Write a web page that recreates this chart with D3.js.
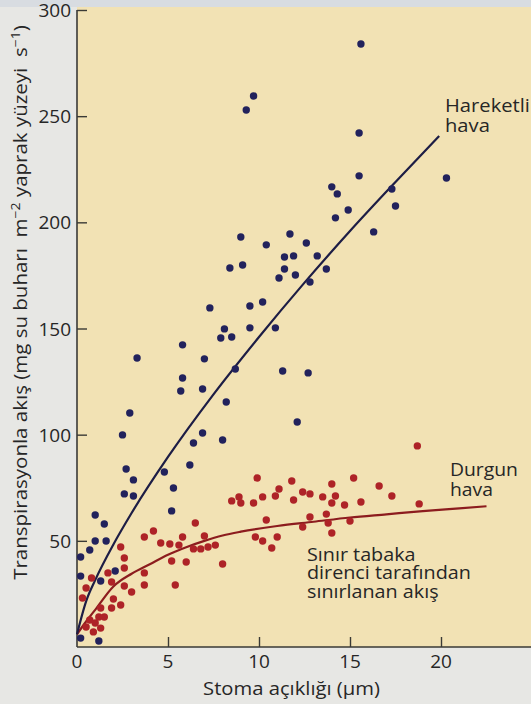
<!DOCTYPE html>
<html>
<head>
<meta charset="utf-8">
<script src="https://cdn.jsdelivr.net/npm/d3@7"></script>
<style>
  html, body { margin: 0; padding: 0; background: #e7e7e4; }
  svg { display: block; }
  text { font-family: "Open Sans", "Noto Sans", sans-serif; fill: #262626; }
</style>
</head>
<body>
<svg id="chart" width="531" height="704"></svg>
<script>
// ---- Data ----
const xTicks = [0, 5, 10, 15, 20];
const yTicks = [50, 100, 150, 200, 250, 300];

// Moving air (Hareketli hava) points: stomatal aperture (µm) / transpiration
const movingAirX = [9.7,9.3,9.0,9.1,8.4,10.4,7.3,9.5,10.2,8.1,7.9,8.5,9.5,5.8,15.6,15.5,15.5,20.3,14.0,14.3,
  17.3,17.5,14.9,14.2,16.3,11.7,12.6,11.4,11.9,13.2,11.4,11.1,12.0,12.8,13.7,10.9,3.3,7.0,5.8,5.7,
  6.9,8.7,8.2,2.9,2.5,6.9,6.4,8.0,6.2,2.7,3.1,4.8,2.6,3.1,5.3,5.2,1.0,1.5,1.0,1.6,
  0.7,0.2,0.2,1.3,2.1,0.2,1.2,11.3,12.7,12.1];
const movingAirY = [259.5,252.9,193.1,179.9,178.5,189.4,159.7,160.6,162.5,149.8,145.5,146.0,150.3,142.3,284.0,242.1,221.9,220.9,216.7,213.4,
  215.7,207.7,205.8,202.1,195.5,194.5,190.3,183.7,184.2,184.2,178.0,173.8,175.2,171.9,178.0,150.3,136.1,135.7,126.7,120.6,
  121.5,130.9,115.4,110.2,99.9,100.8,96.1,97.5,85.7,83.8,78.7,82.4,72.1,71.1,74.9,64.1,62.2,57.9,49.9,49.9,
  45.7,42.4,33.4,31.1,35.8,4.2,2.8,130.0,129.1,106.0];

// Still air (Durgun hava) points
const stillAirX = [0.9,0.5,1.3,1.0,0.7,1.2,1.5,1.3,1.9,2.4,2.0,0.3,0.5,2.6,3.0,0.8,1.9,1.7,2.6,2.6,
  2.4,3.7,3.7,3.7,4.2,4.6,5.1,5.6,5.8,5.2,5.4,6.0,6.5,6.4,6.8,7.0,7.2,7.6,8.0,8.5,
  8.9,9.0,9.7,9.9,10.2,9.8,10.2,10.7,10.4,11.0,10.9,11.1,11.8,11.9,12.4,12.8,12.4,12.8,13.5,14.0,
  14.2,14.0,13.7,13.8,14.0,14.7,15.0,15.2,15.6,16.6,17.3,18.8,18.7];
const stillAirY = [7.1,9.4,8.9,11.3,12.7,14.1,14.1,18.4,18.4,19.8,22.6,23.1,27.8,28.7,25.9,32.5,30.6,34.9,37.2,41.9,
  47.1,34.9,29.2,51.8,54.6,49.0,48.5,48.0,51.8,40.5,29.2,40.0,58.4,46.2,46.2,52.3,47.1,48.0,39.1,68.8,
  70.7,67.8,67.8,79.6,70.7,51.8,49.9,46.6,59.8,51.8,71.1,74.4,78.2,69.2,73.0,72.1,56.5,61.2,70.7,76.8,
  71.1,67.8,62.6,58.4,53.7,66.9,59.3,79.6,68.3,75.8,71.1,67.4,94.7];

// Fitted curves as drawn in the figure
const movingCurveX = [0, 0.5, 1, 2, 3, 5, 7.5, 10, 12.5, 15, 17.5, 19.9];
const movingCurveY = [6, 21.5, 31.5, 48.3, 63.1, 89.5, 119, 146, 171.6, 195.9, 219, 240.7];
const stillCurveX = [0, 0.5, 1, 2, 3, 4, 5, 6, 7, 8, 9, 11, 13, 15, 17, 19, 21, 22.5];
const stillCurveY = [6, 12, 17.5, 28.5, 34.5, 39, 43.5, 47, 50, 52.5, 54.3, 57, 59, 61, 62.5, 64, 65.3, 66.3];

// ---- Layout ----
const svg = d3.select("#chart");
const mLeft = 77, mRight = 532, mTop = 10, mBottom = 647;
const x = d3.scaleLinear().domain([0, 25]).range([mLeft, mRight]);
const y = d3.scaleLinear().domain([0, 300]).range([mBottom, mTop]);

// top strip
svg.append("rect").attr("x", 0).attr("y", 0).attr("width", 531).attr("height", 7).attr("fill", "#d8dce1");
// plot background
svg.append("rect").attr("x", mLeft).attr("y", 7).attr("width", 531 - mLeft).attr("height", mBottom - 7)
  .attr("fill", "#f2e2b4");

// axes
const axisColor = "#3a3a36";
const yAxis = svg.append("g").attr("transform", `translate(${mLeft},0)`)
  .call(d3.axisRight(y).tickValues(yTicks).tickSize(10).tickFormat(""));
const xAxis = svg.append("g").attr("transform", `translate(0,${mBottom})`)
  .call(d3.axisTop(x).tickValues([5, 10, 15, 20, 25]).tickSize(10).tickFormat(""));
[yAxis, xAxis].forEach(g => {
  g.select(".domain").attr("stroke", axisColor).attr("stroke-width", 1.6);
  g.selectAll(".tick line").attr("stroke", axisColor).attr("stroke-width", 1.4);
});
yAxis.select(".domain").attr("d", `M0,${mTop}V${mBottom}`);
xAxis.select(".domain").attr("d", `M${mLeft},0H${mRight}`);

// tick labels
svg.append("g").selectAll("text").data(yTicks).join("text")
  .attr("x", mLeft - 6).attr("y", d => y(d) + 7)
  .attr("text-anchor", "end").attr("font-size", 19).text(d => d);
svg.append("g").selectAll("text").data(xTicks).join("text")
  .attr("x", d => x(d)).attr("y", 668)
  .attr("text-anchor", "middle").attr("font-size", 19).text(d => d);

// helper: stretch a text block horizontally (along its reading direction) to a target width
function stretch(g, textEl, target) {
  const w = textEl.node().getBBox().width;
  return target / w;
}

// x title
{
  const g = svg.append("g");
  const t = g.append("text").attr("font-size", 17.5).attr("text-anchor", "middle").text("Stoma açıklığı (µm)");
  const k = stretch(g, t, 177);
  g.attr("transform", `translate(291.5,695) scale(${k},1)`);
}
// y title
{
  const g = svg.append("g");
  const t = g.append("text").attr("text-anchor", "middle").attr("font-size", 17.5);
  t.append("tspan").text("Transpirasyonla akış (mg su buharı\u00a0\u00a0m");
  t.append("tspan").attr("dy", -7).attr("font-size", 12).text("−2");
  t.append("tspan").attr("dy", 7).text(" yaprak yüzeyi\u00a0\u00a0s");
  t.append("tspan").attr("dy", -7).attr("font-size", 12).text("−1");
  t.append("tspan").attr("dy", 7).text(")");
  const k = stretch(g, t, 555);
  g.attr("transform", `translate(27,302.5) rotate(-90) scale(${k},1)`);
}

// curves
const line = d3.line().x(d => x(d[0])).y(d => y(d[1])).curve(d3.curveMonotoneX);
svg.append("path").datum(stillCurveX.map((v, i) => [v, stillCurveY[i]]))
  .attr("d", line).attr("fill", "none").attr("stroke", "#8c1c1e").attr("stroke-width", 2.2);
svg.append("path").datum(movingCurveX.map((v, i) => [v, movingCurveY[i]]))
  .attr("d", line).attr("fill", "none").attr("stroke", "#1d1d45").attr("stroke-width", 2.2);

// points
svg.append("g").selectAll("circle").data(stillAirX.map((v, i) => [v, stillAirY[i]])).join("circle")
  .attr("cx", d => x(d[0])).attr("cy", d => y(d[1])).attr("r", 3.7).attr("fill", "#ae2327");
svg.append("g").selectAll("circle").data(movingAirX.map((v, i) => [v, movingAirY[i]])).join("circle")
  .attr("cx", d => x(d[0])).attr("cy", d => y(d[1])).attr("r", 3.7).attr("fill", "#22225c");

// annotations (block stretched so that its widest line matches the reference width)
function multi(xp, yp, lines, size, lh, widest) {
  const g = svg.append("g");
  const t = g.append("text").attr("x", 0).attr("y", 0).attr("font-size", size);
  lines.forEach((s, i) => t.append("tspan").attr("x", 0).attr("dy", i === 0 ? 0 : lh).text(s));
  const k = stretch(g, t, widest);
  g.attr("transform", `translate(${xp},${yp}) scale(${k},1)`);
}
multi(445, 112, ["Hareketli", "hava"], 18.5, 20, 85);
multi(450, 476, ["Durgun", "hava"], 18.5, 20, 68);
multi(307, 561, ["Sınır tabaka", "direnci tarafından", "sınırlanan akış"], 18.5, 18.3, 164);
</script>
</body>
</html>
